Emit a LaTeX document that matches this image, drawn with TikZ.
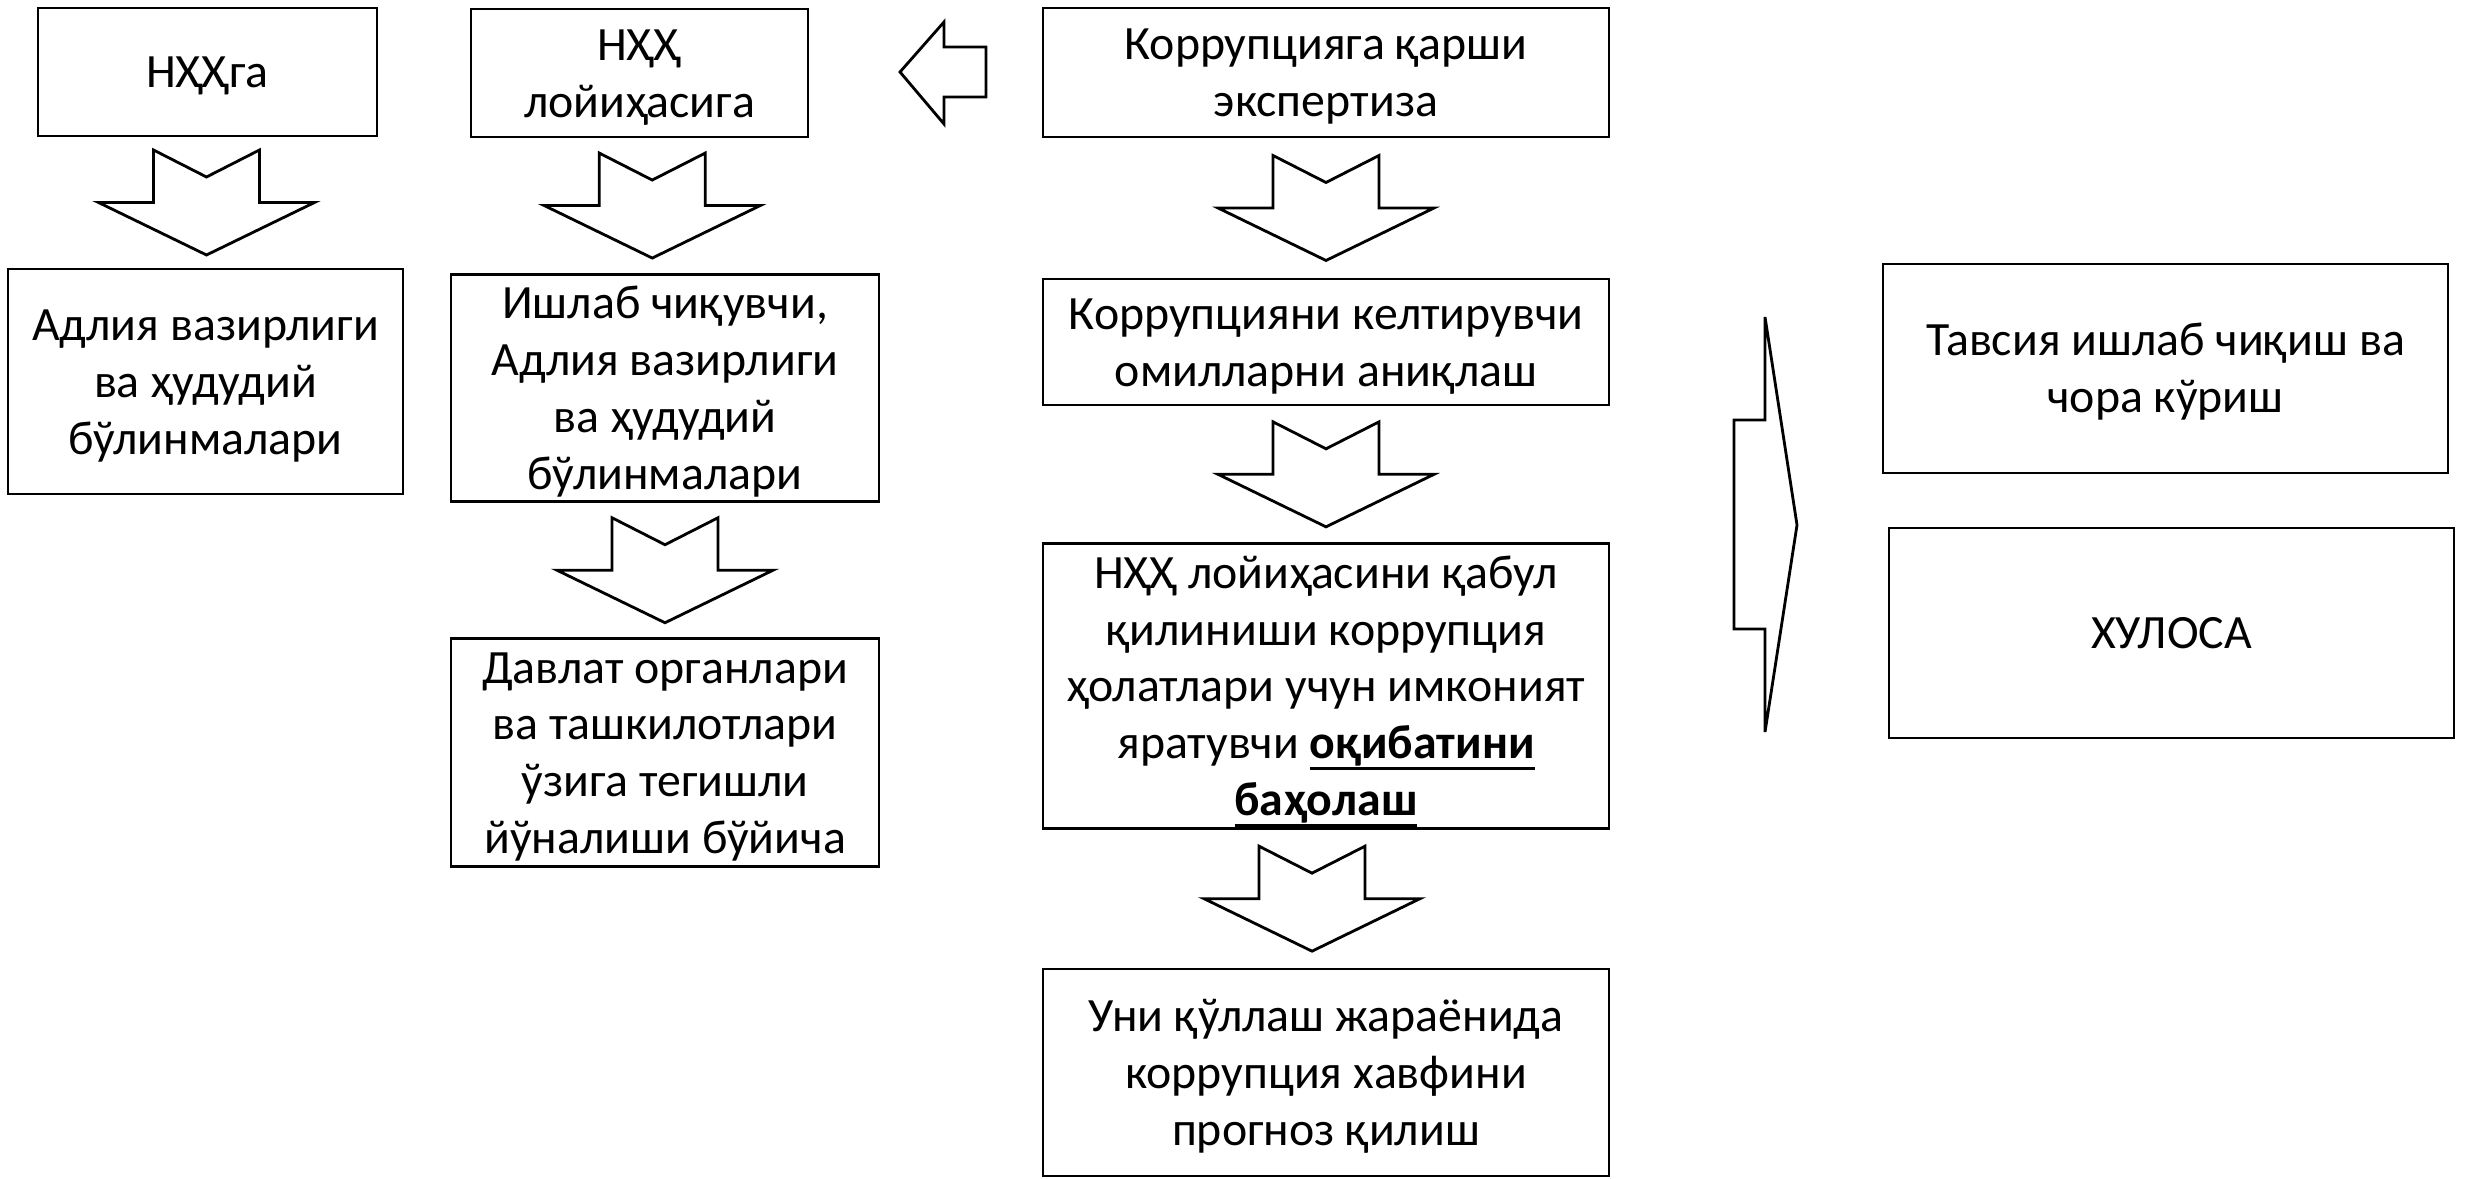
\documentclass[tikz,border=0pt]{standalone}
\usepackage{fontspec}
\setmainfont{Carlito}
\newcommand\ulbf[1]{\setbox0\hbox{\textbf{#1}}\rlap{\rule[-0.23em]{\wd0}{0.8pt}}\box0}
\newcommand\ls{\rule[-0.22\baselineskip]{0pt}{\baselineskip}}
\usetikzlibrary{calc}
\begin{document}
\begin{tikzpicture}[line join=miter, font=\fontsize{13.6}{16.2}\selectfont,
	box/.style={draw, line width=0.8pt, rectangle, inner sep=0pt, align=center},
	blockarr/.style={draw, line width=0.8pt, fill=white},
	downarr/.pic={\draw[blockarr] (-0.53,0.525)--(0,0.255)--(0.53,0.525)--(0.53,0)--(1.08,0)--(0,-0.525)--(-1.08,0)--(-0.53,0)--cycle;}]
	\useasboundingbox (0,0) rectangle (24.75,-11.79);
	\node[box, minimum width=3.39cm, minimum height=1.28cm] (nhh) at (2.075,-0.72) {\ls НҲҲга};
	\node[box, minimum width=3.37cm, minimum height=1.28cm] (loyiha) at (6.395,-0.73) {\ls НҲҲ\\ лойиҳасига\ls};
	\node[box, minimum width=5.66cm, minimum height=1.29cm] (ekspert) at (13.26,-0.725) {\ls Коррупцияга қарши\\ экспертиза\ls};
	\node[box, minimum width=3.95cm, minimum height=2.25cm] (adliya) at (2.055,-3.815) {\ls Адлия вазирлиги\\ ва ҳудудий\\ бўлинмалари\ls};
	\node[box, minimum width=4.28cm, minimum height=2.24cm] (ishlab) at (6.65,-3.88) {\ls Ишлаб чиқувчи,\\ Адлия вазирлиги\\ ва ҳудудий\\ бўлинмалари\ls};
	\node[box, minimum width=4.28cm, minimum height=2.25cm] (davlat) at (6.65,-7.525) {\ls Давлат органлари\\ ва ташкилотлари\\ ўзига тегишли\\ йўналиши бўйича\ls};
	\node[box, minimum width=5.66cm, minimum height=1.26cm] (omil) at (13.26,-3.42) {\ls Коррупцияни келтирувчи\\ омилларни аниқлаш\ls};
	\node[box, minimum width=5.66cm, minimum height=2.84cm] (oqibat) at (13.26,-6.86) {\ls НҲҲ лойиҳасини қабул\\ қилиниши коррупция\\ ҳолатлари учун имконият\\ яратувчи \ulbf{оқибатини}\\ \ulbf{баҳолаш}\ls};
	\node[box, minimum width=5.66cm, minimum height=2.07cm] (prognoz) at (13.26,-10.725) {\ls Уни қўллаш жараёнида\\ коррупция хавфини\\ прогноз қилиш\ls};
	\node[box, minimum width=5.65cm, minimum height=2.09cm] (tavsiya) at (21.655,-3.685) {\ls Тавсия ишлаб чиқиш ва\\ чора кўриш\ls};
	\node[box, minimum width=5.65cm, minimum height=2.10cm] (xulosa) at (21.715,-6.33) {\ls ХУЛОСА};
	\pic at ($(nhh.south)!0.5!(adliya.north)$) {downarr};
	\pic at ($(loyiha.south)!0.5!(ishlab.north)$) {downarr};
	\pic at ($(ekspert.south)!0.5!(omil.north)$) {downarr};
	\pic at ($(omil.south)!0.5!(oqibat.north)$) {downarr};
	\pic at ($(ishlab.south)!0.5!(davlat.north)$) {downarr};
	\pic at ($(oqibat.south)!0.5!(prognoz.north)+(-0.14,0)$) {downarr};
	\draw[blockarr] (9.00,-0.72)--(9.44,-0.22)--(9.44,-0.47)--(9.86,-0.47)--(9.86,-0.97)--(9.44,-0.97)--(9.44,-1.24)--cycle;
	\draw[blockarr] (17.65,-3.17)--(17.97,-5.25)--(17.65,-7.32)--(17.65,-6.29)--(17.34,-6.29)--(17.34,-4.20)--(17.65,-4.20)--cycle;
\end{tikzpicture}
\end{document}
